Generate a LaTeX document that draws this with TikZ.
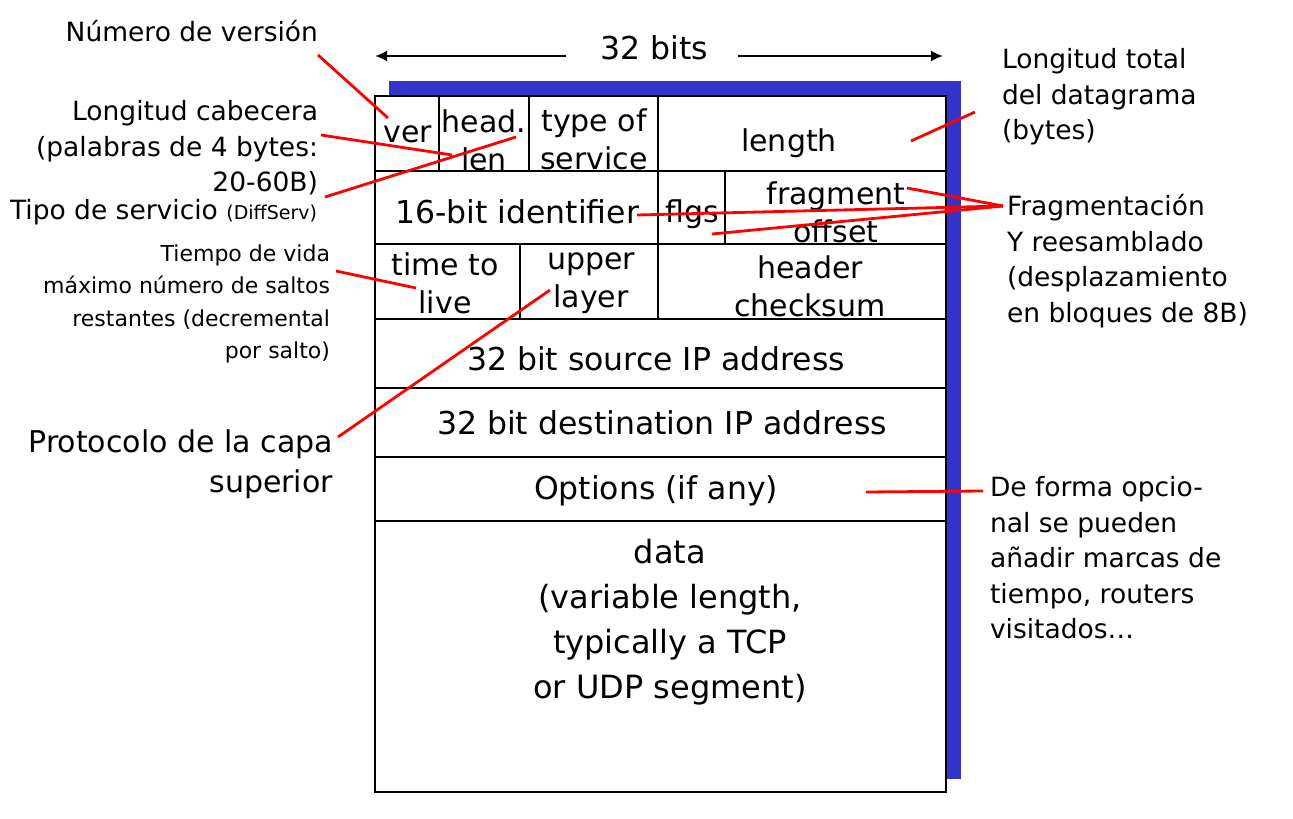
\documentclass[tikz,border=0pt]{standalone}
\usepackage{fontspec}
\setmainfont{DejaVu Sans}
\usetikzlibrary{arrows.meta}
\definecolor{shadowblue}{RGB}{52,52,200}
\begin{document}
\begin{tikzpicture}[x=1pt,y=-1pt,
  every node/.style={inner sep=0pt,outer sep=0pt},
  fld/.style={font=\fontsize{30}{38}\selectfont,align=center},
  fldb/.style={font=\fontsize{31.5}{38}\selectfont,align=center},
  dat/.style={font=\fontsize{32}{45}\selectfont,align=center},
  lbl/.style={font=\fontsize{26.5}{35.5}\selectfont},
  lblsmall/.style={font=\fontsize{22}{32.3}\selectfont},
  lblbig/.style={font=\fontsize{30}{40}\selectfont},
  grid/.style={line width=2.8pt,black},
  callout/.style={line width=2.8pt,red},
  dim/.style={line width=2.8pt,black,-{Latex[length=12pt,width=11pt]}}
]
\useasboundingbox (0,0) rectangle (1293,819);
% shadow and frame
\fill[shadowblue] (389,81) rectangle (961,779);
\filldraw[grid,fill=white] (375,96) rectangle (946,792);
\foreach \yy in {171,244,319,388,457,521} \draw[grid] (375,\yy) -- (946,\yy);
\draw[grid] (439,96) -- (439,171);
\draw[grid] (529,96) -- (529,171);
\draw[grid] (658,96) -- (658,244);
\draw[grid] (725,171) -- (725,244);
\draw[grid] (520,244) -- (520,319);
\draw[grid] (658,244) -- (658,319);
% width
\node[fldb] (bits) at (654,48) {32 bits};
\coordinate (al0) at (566,56); \coordinate (al1) at (375,56);
\coordinate (ar0) at (738,56); \coordinate (ar1) at (943,56);
\draw[dim] (al0) -- (al1);
\draw[dim] (ar0) -- (ar1);
% fields
\node[fld] (ver) at (408,134) {ver};
\node[fld] (hlen) at (484,140) {head.\\len};
\node[fld] (tos) at (594,139) {type of\\service};
\node[fld] (len) at (789,143) {length};
\node[fldb] (ident) at (517,212) {16-bit identifier};
\node[fld] (flgs) at (692,214) {flgs};
\node[fld] (frag) at (836,212) {fragment\\offset};
\node[fld] (ttl) at (445,283) {time to\\live};
\node[fld] (proto) at (591,283) {upper\\layer};
\node[fld] (csum) at (810,286) {header\\checksum};
\node[fldb] (src) at (656,359) {32 bit source IP address};
\node[fldb] (dst) at (662,423) {32 bit destination IP address};
\node[fldb] (opt) at (656,491) {Options (if any)};
\node[dat] (data) at (670,622) {data\\(variable length,\\typically a TCP\\ or UDP segment)};
% left labels
\node[lbl,anchor=east] (lver) at (318,31) {Número de versión};
\node[lbl,anchor=east,align=right] (lhl) at (318,148) {Longitud cabecera\\(palabras de 4 bytes:\\20-60B)};
\node[lbl,anchor=west] (ltos) at (10,212) {Tipo de servicio {\fontsize{19}{20}\selectfont(DiffServ)}};
\node[lblsmall,anchor=east,align=right] (lttl) at (330,304) {Tiempo de vida\\máximo número de saltos\\restantes (decremental\\por salto)};
\node[lblbig,anchor=east,align=right] (lproto) at (333,464) {Protocolo de la capa\\superior};
% right labels
\node[lbl,anchor=west,align=left] (llen) at (1002,97) {Longitud total\\del datagrama\\(bytes)};
\node[lbl,anchor=west,align=left] (lfrag) at (1007,261) {Fragmentación\\Y reesamblado\\(desplazamiento\\en bloques de 8B)};
\node[lbl,anchor=west,align=left] (lopt) at (990,558) {De forma opcio-\\nal se pueden\\añadir marcas de\\tiempo, routers\\visitados…};
% callout points
\coordinate (cver0) at (318,55);  \coordinate (cver1) at (388,118);
\coordinate (chl0) at (321,135);  \coordinate (chl1) at (452,155);
\coordinate (ctos0) at (325,197); \coordinate (ctos1) at (516,137);
\coordinate (clen0) at (911,141); \coordinate (clen1) at (975,112);
\coordinate (cfr) at (1003,206);
\coordinate (cfr1) at (907,188); \coordinate (cfr2) at (637,215); \coordinate (cfr3) at (712,234);
\coordinate (cttl0) at (336,271); \coordinate (cttl1) at (416,288);
\coordinate (cpr0) at (338,437);  \coordinate (cpr1) at (550,290);
\coordinate (copt0) at (866,492); \coordinate (copt1) at (983,491);
\draw[callout] (cver0) -- (cver1);
\draw[callout] (chl0) -- (chl1);
\draw[callout] (ctos0) -- (ctos1);
\draw[callout] (clen0) -- (clen1);
\draw[callout] (cfr) -- (cfr1);
\draw[callout] (cfr) -- (cfr2);
\draw[callout] (cfr) -- (cfr3);
\draw[callout] (cttl0) -- (cttl1);
\draw[callout] (cpr0) -- (cpr1);
\draw[callout] (copt0) -- (copt1);
\end{tikzpicture}
\end{document}
